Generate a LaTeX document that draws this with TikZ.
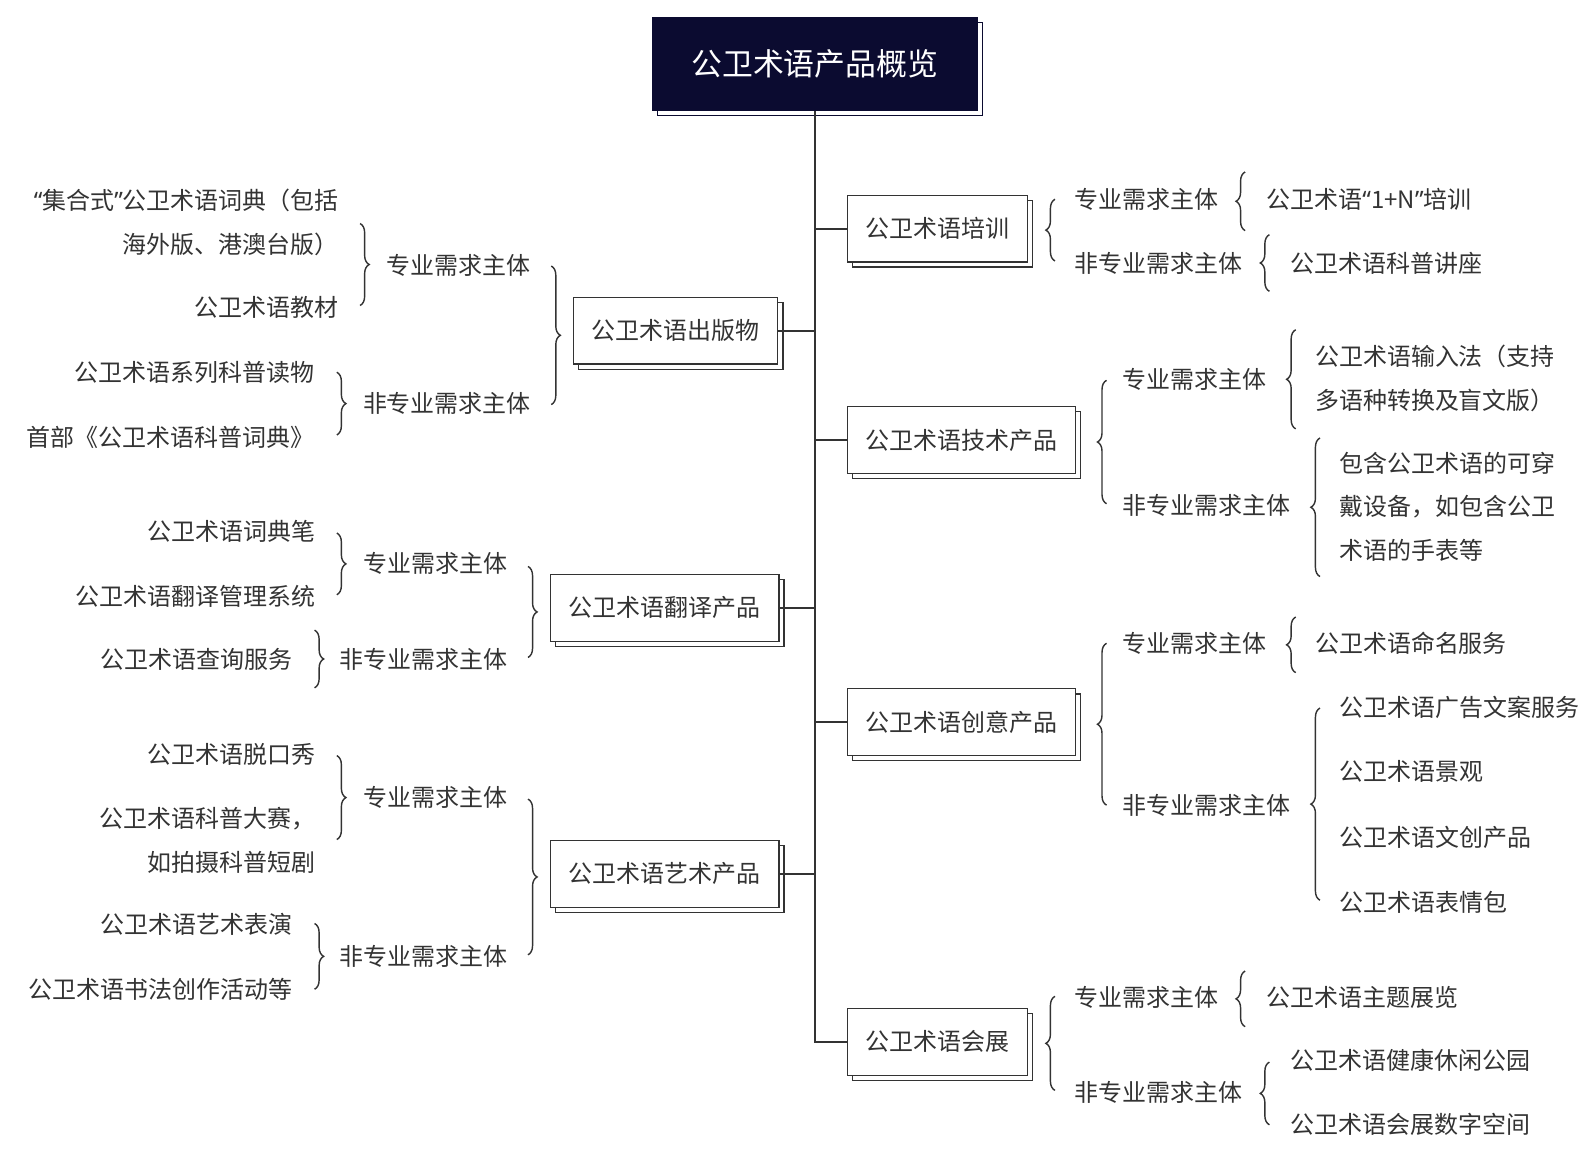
\documentclass[tikz,border=0pt]{standalone}
\usepackage{fontspec}
\setmainfont{Noto Sans CJK SC}
\newfontfamily\qf{Noto Sans}
\usetikzlibrary{decorations.pathreplacing,shadows}
\definecolor{ink}{HTML}{333333}
\definecolor{navy}{HTML}{0B0B30}
\newcommand\myfs{\fontsize{23.7pt}{43pt}\selectfont}
\newcommand\mytfs{\fontsize{30.5pt}{36pt}\selectfont}
\newcommand\myoq{{\qf “}}
\newcommand\mycq{{\qf ”}}
\begin{document}
\begin{tikzpicture}[x=1pt,y=-1pt,
  lbl/.style={text=ink,font=\myfs,inner sep=0pt},
  lbE/.style={lbl,anchor=east,align=right},
  lbW/.style={lbl,anchor=west,align=left},
  box/.style={draw=ink,line width=1.3pt,fill=white,text=ink,font=\myfs,
    inner xsep=18pt,inner ysep=0pt,minimum height=66pt,
    general shadow={draw=ink,fill=white,line width=1.3pt,shadow xshift=5pt,shadow yshift=-5pt}},
  ttl/.style={draw=navy,fill=navy,text=white,font=\mytfs,line width=1.3pt,
    minimum width=321pt,minimum height=92pt,inner sep=0pt,
    general shadow={draw=navy,fill=white,line width=1.3pt,shadow xshift=5pt,shadow yshift=-5pt}},
  conn/.style={draw=ink,line width=1.8pt},
  brR/.style={draw=ink,line width=1.4pt,decorate,decoration={brace,amplitude=9pt}},
  brL/.style={draw=ink,line width=1.4pt,decorate,decoration={brace,amplitude=9pt}}]
\useasboundingbox (0,0) rectangle (1568,1144);

% title
\node[ttl] (title) at (805.5,63) {公卫术语产品概览};

% main boxes
\node[box,minimum width=202pt] (b1) at (668,327) {公卫术语出版物};
\node[box,minimum width=226pt] (b2) at (657,601) {公卫术语翻译产品};
\node[box,minimum width=226pt] (b3) at (657,864) {公卫术语艺术产品};
\node[box,minimum width=178pt] (b4) at (927,226) {公卫术语培训};
\node[box,minimum width=225pt] (b5) at (950.5,435) {公卫术语技术产品};
\node[box,minimum width=225pt] (b6) at (950.5,714) {公卫术语创意产品};
\node[box,minimum width=178pt] (b7) at (927,1030) {公卫术语会展};

% trunk and branches
\draw[conn] (title.south) -- (title.south |- b7.west) -- (b7.west);
\draw[conn] (b1.east) -- (b1.east -| title.south);
\draw[conn] (b2.east) -- (b2.east -| title.south);
\draw[conn] (b3.east) -- (b3.east -| title.south);
\draw[conn] (b4.west -| title.south) -- (b4.west);
\draw[conn] (b5.west -| title.south) -- (b5.west);
\draw[conn] (b6.west -| title.south) -- (b6.west);

% ---------- left side ----------
\node[lbE] (c1a) at (525,262) {专业需求主体};
\node[lbE] (c1b) at (525,399) {非专业需求主体};
\node[lbE] (c2a) at (502,557) {专业需求主体};
\node[lbE] (c2b) at (502,652) {非专业需求主体};
\node[lbE] (c3a) at (502,788) {专业需求主体};
\node[lbE] (c3b) at (502,946) {非专业需求主体};

\node[lbE] (l1) at (335,220) {\myoq 集合式\mycq 公卫术语词典（包括\\海外版、港澳台版）};
\node[lbE] (l2) at (335,304) {公卫术语教材};
\node[lbE] (l3) at (311,368) {公卫术语系列科普读物};
\node[lbE] (l4) at (311,432) {首部《公卫术语科普词典》};
\node[lbE] (l5) at (312,525) {公卫术语词典笔};
\node[lbE] (l6) at (312,590) {公卫术语翻译管理系统};
\node[lbE] (l7) at (289,652) {公卫术语查询服务};
\node[lbE] (l8) at (312,746) {公卫术语脱口秀};
\node[lbE] (l9) at (312,831) {公卫术语科普大赛，\\如拍摄科普短剧};
\node[lbE] (l10) at (289,914) {公卫术语艺术表演};
\node[lbE] (l11) at (289,978) {公卫术语书法创作活动等};

\draw[brR] (545,263) coordinate (k1a) -- (545,400) coordinate (k1b);
\draw[brR] (356,221) coordinate (k2a) -- (356,302) coordinate (k2b);
\draw[brR] (333,368) coordinate (k3a) -- (333,430) coordinate (k3b);
\draw[brR] (522,560) coordinate (k4a) -- (522,650) coordinate (k4b);
\draw[brR] (333,527) coordinate (k5a) -- (333,588) coordinate (k5b);
\draw[brR] (311,623) coordinate (k6a) -- (311,680) coordinate (k6b);
\draw[brR] (522,790) coordinate (k7a) -- (522,944) coordinate (k7b);
\draw[brR] (333,747) coordinate (k8a) -- (333,830) coordinate (k8b);
\draw[brR] (311,913) coordinate (k9a) -- (311,978) coordinate (k9b);

% ---------- right side ----------
\node[lbW] (r1a) at (1062,197) {专业需求主体};
\node[lbW] (r1b) at (1062,260) {非专业需求主体};
\node[lbW] (r2a) at (1110,375) {专业需求主体};
\node[lbW] (r2b) at (1110,500) {非专业需求主体};
\node[lbW] (r3a) at (1110,636) {专业需求主体};
\node[lbW] (r3b) at (1110,796) {非专业需求主体};
\node[lbW] (r4a) at (1062,986) {专业需求主体};
\node[lbW] (r4b) at (1062,1080) {非专业需求主体};

\node[lbW] (m1) at (1252,197) {公卫术语\myoq 1+N\mycq 培训};
\node[lbW] (m2) at (1276,260) {公卫术语科普讲座};
\node[lbW] (m3) at (1300,374) {公卫术语输入法（支持\\多语种转换及盲文版）};
\node[lbW] (m4) at (1324,501) {包含公卫术语的可穿\\戴设备，如包含公卫\\术语的手表等};
\node[lbW] (m5) at (1300,636) {公卫术语命名服务};
\node[lbW] (m6) at (1324,699) {公卫术语广告文案服务};
\node[lbW] (m7) at (1324,763) {公卫术语景观};
\node[lbW] (m8) at (1324,828) {公卫术语文创产品};
\node[lbW] (m9) at (1324,892) {公卫术语表情包};
\node[lbW] (m10) at (1252,986) {公卫术语主题展览};
\node[lbW] (m11) at (1276,1048) {公卫术语健康休闲公园};
\node[lbW] (m12) at (1276,1112) {公卫术语会展数字空间};

\draw[brL] (1043,258) coordinate (q1a) -- (1043,197) coordinate (q1b);
\draw[brL] (1231,228) coordinate (q2a) -- (1231,170) coordinate (q2b);
\draw[brL] (1255,288) coordinate (q3a) -- (1255,232) coordinate (q3b);
\draw[brL] (1094,498) coordinate (q4a) -- (1094,376) coordinate (q4b);
\draw[brL] (1281,424) coordinate (q5a) -- (1281,326) coordinate (q5b);
\draw[brL] (1305,570) coordinate (q6a) -- (1305,433) coordinate (q6b);
\draw[brL] (1094,796) coordinate (q7a) -- (1094,636) coordinate (q7b);
\draw[brL] (1281,665) coordinate (q8a) -- (1281,610) coordinate (q8b);
\draw[brL] (1305,890) coordinate (q9a) -- (1305,700) coordinate (q9b);
\draw[brL] (1043,1078) coordinate (q10a) -- (1043,985) coordinate (q10b);
\draw[brL] (1231,1015) coordinate (q11a) -- (1231,960) coordinate (q11b);
\draw[brL] (1255,1112) coordinate (q12a) -- (1255,1050) coordinate (q12b);
\end{tikzpicture}
\end{document}
